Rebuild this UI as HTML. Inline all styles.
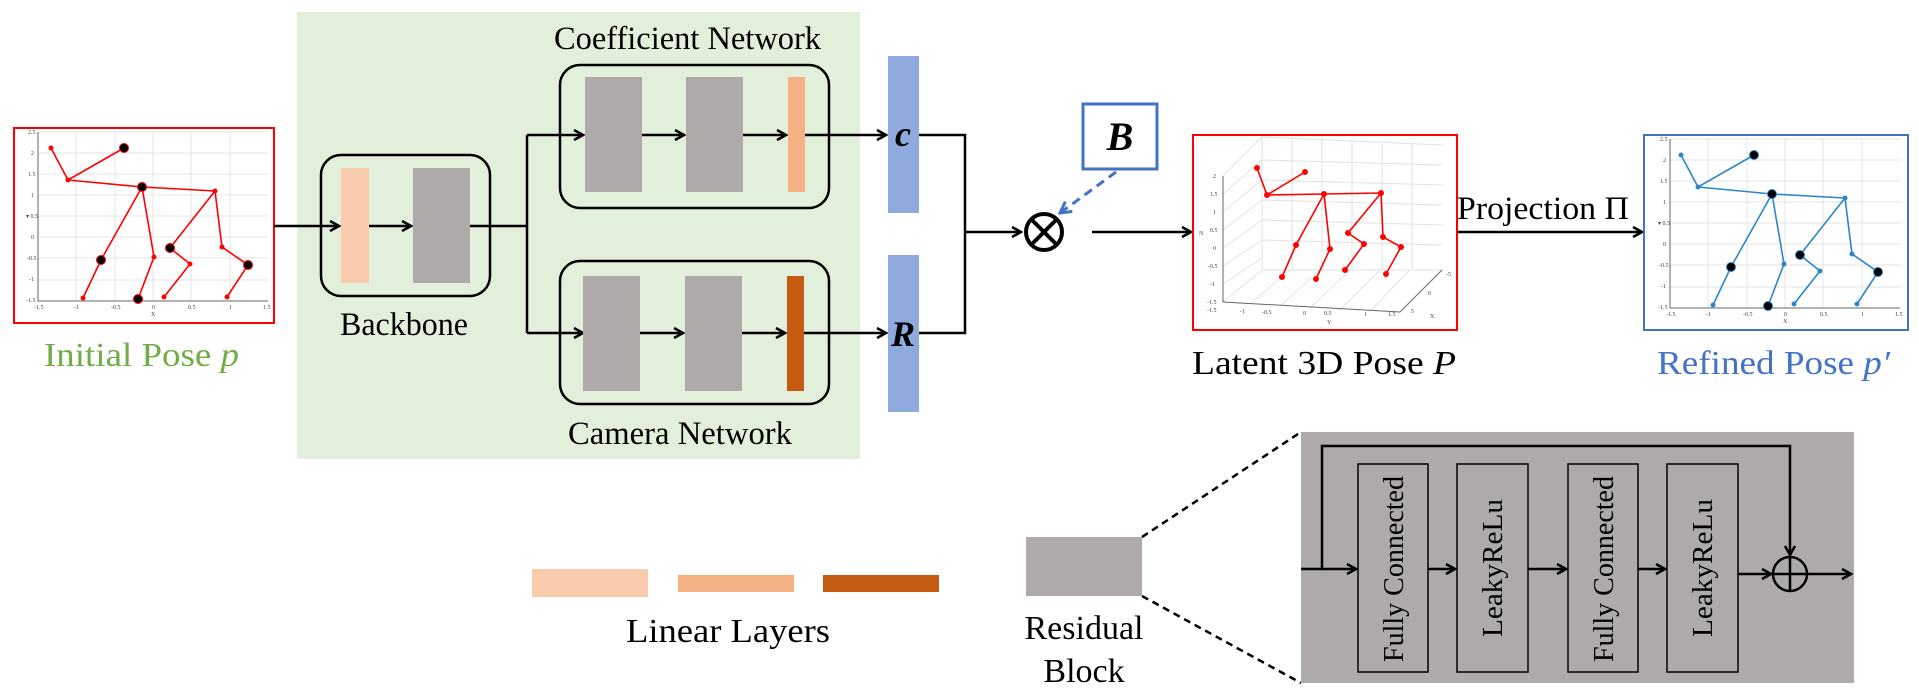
<!DOCTYPE html>
<html><head><meta charset="utf-8"><style>
html,body{margin:0;padding:0;background:#fff;}
svg{display:block;}
text{font-family:"Liberation Serif",serif;}
</style></head><body>
<svg width="1919" height="697" viewBox="0 0 1919 697" xmlns="http://www.w3.org/2000/svg">
<defs>
<marker id="ah" markerWidth="12" markerHeight="12" refX="10" refY="6" orient="auto" markerUnits="userSpaceOnUse">
<path d="M1,1 L10,6 L1,11" fill="none" stroke="#000" stroke-width="2.5"/>
</marker>
<marker id="ab" markerWidth="14" markerHeight="14" refX="12" refY="7" orient="auto" markerUnits="userSpaceOnUse">
<path d="M1,1 L12,7 L1,13" fill="none" stroke="#4472c4" stroke-width="3"/>
</marker>
<g id="pose">
<g fill="none" stroke-width="1.6">
<path d="M51,148 L68,180 L124,148 M68,180 L142,187 L215,191 M142,187 L101,260 L83,298 M142,187 L154,257 L138,299 M215,191 L170,248 L190,264 L164,297 M215,191 L222,247 L248,265 L227,297"/>
</g>
<g>
<circle cx="51" cy="148" r="2"/><circle cx="68" cy="180" r="2"/><circle cx="215" cy="191" r="2"/><circle cx="83" cy="298" r="2"/><circle cx="154" cy="257" r="2"/><circle cx="190" cy="264" r="2"/><circle cx="164" cy="297" r="2"/><circle cx="222" cy="247" r="2"/><circle cx="227" cy="297" r="2"/>
</g>
<g fill="#000">
<circle cx="124" cy="148" r="4.5"/><circle cx="142" cy="187" r="4.5"/><circle cx="101" cy="260" r="4.5"/><circle cx="138" cy="299" r="4.5"/><circle cx="170" cy="248" r="4.5"/><circle cx="248" cy="265" r="4.5"/>
</g>
</g>
<g id="grid">
<g stroke="#e4e4e4" stroke-width="1">
<path d="M38,132 H268 M38,153 H268 M38,174 H268 M38,195 H268 M38,216 H268 M38,237 H268 M38,258 H268 M38,280 H268 M76,132 V301 M115,132 V301 M153,132 V301 M191,132 V301 M230,132 V301"/>
</g>
<path d="M38,132 V301 H268" fill="none" stroke="#666" stroke-width="1"/>
<g font-size="6" fill="#444" font-family="Liberation Sans,sans-serif">
<text x="28" y="134">2.5</text><text x="31" y="155">2</text><text x="28" y="176">1.5</text><text x="31" y="197">1</text><text x="26" y="218">▾ 0.5</text><text x="31" y="239">0</text><text x="27" y="260">-0.5</text><text x="29" y="281">-1</text><text x="26" y="302">-1.5</text>
<text x="34" y="309">-1.5</text><text x="74" y="309">-1</text><text x="111" y="309">-0.5</text><text x="152" y="309">0</text><text x="188" y="309">0.5</text><text x="229" y="309">1</text><text x="263" y="309">1.5</text><text x="151" y="316">X</text>
</g>
</g>
</defs>

<rect x="297" y="12" width="563" height="447" fill="#e2efda"/>

<rect x="14" y="128" width="260" height="195" fill="#fff" stroke="#ff0000" stroke-width="2"/>
<use href="#grid"/>
<g stroke="#ff0000" fill="#ff0000"><use href="#pose"/></g>
<text x="44" y="366" font-size="34" fill="#70ad47" textLength="195" lengthAdjust="spacingAndGlyphs">Initial Pose <tspan font-style="italic">p</tspan></text>

<rect x="321" y="155" width="169" height="141" rx="20" fill="none" stroke="#000" stroke-width="2.5"/>
<rect x="341" y="168" width="28" height="115" fill="#f8cbad"/>
<rect x="413" y="168" width="57" height="115" fill="#aeaaaa"/>
<text x="340" y="335" font-size="33" textLength="128" lengthAdjust="spacingAndGlyphs">Backbone</text>

<g stroke="#000" stroke-width="2.5" fill="none">
<line x1="274" y1="226" x2="339" y2="226" marker-end="url(#ah)"/>
<line x1="369" y1="226" x2="411" y2="226" marker-end="url(#ah)"/>
<line x1="470" y1="226" x2="527" y2="226"/>
<polyline points="527,135 527,333"/>
<line x1="527" y1="135" x2="583" y2="135" marker-end="url(#ah)"/>
<line x1="527" y1="333" x2="583" y2="333" marker-end="url(#ah)"/>
</g>

<text x="554" y="49" font-size="33" textLength="267" lengthAdjust="spacingAndGlyphs">Coefficient Network</text>
<rect x="560" y="65" width="269" height="143" rx="20" fill="none" stroke="#000" stroke-width="2.5"/>
<rect x="585" y="77" width="57" height="115" fill="#aeaaaa"/>
<rect x="686" y="77" width="57" height="115" fill="#aeaaaa"/>
<rect x="788" y="77" width="17" height="115" fill="#f4b183"/>
<rect x="560" y="261" width="269" height="143" rx="20" fill="none" stroke="#000" stroke-width="2.5"/>
<rect x="583" y="276" width="57" height="115" fill="#aeaaaa"/>
<rect x="685" y="276" width="57" height="115" fill="#aeaaaa"/>
<rect x="787" y="276" width="17" height="115" fill="#c55a11"/>
<text x="568" y="444" font-size="33" textLength="224" lengthAdjust="spacingAndGlyphs">Camera Network</text>

<g stroke="#000" stroke-width="2.5" fill="none">
<line x1="642" y1="135" x2="684" y2="135" marker-end="url(#ah)"/>
<line x1="743" y1="135" x2="786" y2="135" marker-end="url(#ah)"/>
<line x1="805" y1="135" x2="886" y2="135" marker-end="url(#ah)"/>
<line x1="640" y1="333" x2="683" y2="333" marker-end="url(#ah)"/>
<line x1="742" y1="333" x2="785" y2="333" marker-end="url(#ah)"/>
<line x1="804" y1="333" x2="886" y2="333" marker-end="url(#ah)"/>
</g>

<rect x="888" y="56" width="31" height="157" fill="#8faadc"/>
<rect x="888" y="255" width="31" height="157" fill="#8faadc"/>
<text x="903" y="146" font-size="36" font-weight="bold" font-style="italic" text-anchor="middle">c</text>
<text x="903" y="346" font-size="36" font-weight="bold" font-style="italic" text-anchor="middle">R</text>

<g stroke="#000" stroke-width="2.5" fill="none">
<polyline points="919,135 965,135 965,333 919,333"/>
<line x1="965" y1="232" x2="1021" y2="232" marker-end="url(#ah)"/>
<line x1="1092" y1="232" x2="1191" y2="232" marker-end="url(#ah)"/>
<line x1="1457" y1="232" x2="1642" y2="232" marker-end="url(#ah)"/>
</g>
<circle cx="1044" cy="232" r="18" fill="none" stroke="#000" stroke-width="4"/>
<path d="M1031,219 L1057,245 M1057,219 L1031,245" stroke="#000" stroke-width="4"/>

<rect x="1083" y="104" width="74" height="65" fill="#fff" stroke="#4472c4" stroke-width="3"/>
<text x="1120" y="150" font-size="40" font-weight="bold" font-style="italic" text-anchor="middle">B</text>
<line x1="1116" y1="172" x2="1060" y2="213" stroke="#4472c4" stroke-width="3" stroke-dasharray="9,6" marker-end="url(#ab)"/>

<rect x="1193" y="135" width="264" height="195" fill="#fff" stroke="#ff0000" stroke-width="2"/>
<g stroke="#e2e2e2" stroke-width="1" fill="none">
<path d="M1262,137 L1442,145 M1262,137 V270 M1223,176 L1262,137 M1223,302 L1262,270 L1442,270 M1262,160 L1442,165 M1262,180 L1442,185 M1262,200 L1442,205 M1262,220 L1442,225 M1262,240 L1442,245 M1292,137 V270 M1322,138 V270 M1352,140 V270 M1382,142 V270 M1412,143 V270 M1223,194 L1262,160 M1223,212 L1262,180 M1223,230 L1262,200 M1223,248 L1262,220 M1223,266 L1262,240 M1223,284 L1262,258 M1250,304 L1290,270 M1280,306 L1320,270 M1310,308 L1350,270 M1340,310 L1380,270 M1370,311 L1410,270"/>
</g>
<path d="M1223,176 V302 L1400,312 L1442,270" fill="none" stroke="#666" stroke-width="1"/>
<g font-size="6" fill="#444" font-family="Liberation Sans,sans-serif">
<text x="1213" y="178">2</text><text x="1210" y="196">1.5</text><text x="1213" y="214">1</text><text x="1210" y="232">0.5</text><text x="1213" y="250">0</text><text x="1208" y="268">-0.5</text><text x="1210" y="286">-1</text><text x="1207" y="304">-1.5</text><text x="1199" y="235">N</text>
<text x="1207" y="312">-1.5</text><text x="1240" y="313">-1</text><text x="1262" y="314">-0.5</text><text x="1303" y="315">0</text><text x="1324" y="315">0.5</text><text x="1364" y="316">1</text><text x="1388" y="316">1.5</text><text x="1327" y="324">Y</text><text x="1446" y="276">-5</text><text x="1428" y="295">0</text><text x="1411" y="313">5</text><text x="1430" y="318">X</text>
</g>
<g stroke="#ff0000" fill="#ff0000" stroke-width="1.6">
<path fill="none" d="M1257,168 L1267,195 L1305,172 M1267,195 L1324,194 L1381,193 M1324,194 L1296,245 L1282,277 M1324,194 L1330,249 L1316,279 M1381,193 L1348,233 L1364,244 L1345,270 M1381,193 L1383,237 L1401,247 L1386,274"/>
<circle cx="1257" cy="168" r="2.2"/><circle cx="1305" cy="172" r="2.2"/><circle cx="1267" cy="195" r="2.2"/><circle cx="1324" cy="194" r="2.2"/><circle cx="1381" cy="193" r="2.2"/><circle cx="1296" cy="245" r="2.2"/><circle cx="1282" cy="277" r="2.2"/><circle cx="1330" cy="249" r="2.2"/><circle cx="1316" cy="279" r="2.2"/><circle cx="1348" cy="233" r="2.2"/><circle cx="1364" cy="244" r="2.2"/><circle cx="1345" cy="270" r="2.2"/><circle cx="1383" cy="237" r="2.2"/><circle cx="1401" cy="247" r="2.2"/><circle cx="1386" cy="274" r="2.2"/>
</g>
<text x="1192" y="374" font-size="34" textLength="264" lengthAdjust="spacingAndGlyphs">Latent 3D Pose <tspan font-style="italic">P</tspan></text>

<text x="1457" y="219" font-size="33" textLength="172" lengthAdjust="spacingAndGlyphs">Projection Π</text>

<rect x="1644" y="135" width="264" height="195" fill="#fff" stroke="#4472c4" stroke-width="2"/>
<g transform="translate(1632,7)"><use href="#grid"/></g>
<g transform="translate(1630,7)" stroke="#2e86c8" fill="#2e86c8"><use href="#pose"/></g>
<text x="1657" y="374" font-size="34" fill="#4472c4" textLength="233" lengthAdjust="spacingAndGlyphs">Refined Pose <tspan font-style="italic">p′</tspan></text>

<rect x="532" y="569" width="116" height="28" fill="#f8cbad"/>
<rect x="678" y="575" width="116" height="17" fill="#f4b183"/>
<rect x="823" y="575" width="116" height="17" fill="#c55a11"/>
<text x="626" y="642" font-size="34" textLength="204" lengthAdjust="spacingAndGlyphs">Linear Layers</text>

<rect x="1026" y="537" width="116" height="59" fill="#aeaaaa"/>
<text x="1084" y="639" font-size="34" text-anchor="middle">Residual</text>
<text x="1084" y="682" font-size="34" text-anchor="middle">Block</text>
<g stroke="#000" stroke-width="2.5" stroke-dasharray="7,5">
<line x1="1142" y1="537" x2="1301" y2="432"/>
<line x1="1142" y1="596" x2="1301" y2="683"/>
</g>
<rect x="1301" y="432" width="553" height="251" fill="#aeaaaa"/>
<g fill="none" stroke="#000" stroke-width="1.5">
<rect x="1358" y="464" width="70" height="208"/>
<rect x="1457" y="464" width="71" height="208"/>
<rect x="1568" y="464" width="70" height="208"/>
<rect x="1667" y="464" width="71" height="208"/>
</g>
<g font-size="28">
<text transform="translate(1403,662) rotate(-90)" textLength="186" lengthAdjust="spacingAndGlyphs">Fully Connected</text>
<text transform="translate(1502,637) rotate(-90)" textLength="138" lengthAdjust="spacingAndGlyphs">LeakyReLu</text>
<text transform="translate(1613,662) rotate(-90)" textLength="186" lengthAdjust="spacingAndGlyphs">Fully Connected</text>
<text transform="translate(1712,637) rotate(-90)" textLength="138" lengthAdjust="spacingAndGlyphs">LeakyReLu</text>
</g>
<g stroke="#000" stroke-width="2.5" fill="none">
<line x1="1301" y1="569" x2="1356" y2="569" marker-end="url(#ah)"/>
<polyline points="1322,569 1322,446 1790,446 1790,555" marker-end="url(#ah)"/>
<line x1="1428" y1="569" x2="1455" y2="569" marker-end="url(#ah)"/>
<line x1="1528" y1="569" x2="1566" y2="569" marker-end="url(#ah)"/>
<line x1="1638" y1="569" x2="1665" y2="569" marker-end="url(#ah)"/>
<line x1="1738" y1="574" x2="1771" y2="574" marker-end="url(#ah)"/>
<line x1="1807" y1="574" x2="1851" y2="574" marker-end="url(#ah)"/>
<circle cx="1790" cy="574" r="17"/>
<path d="M1773,574 H1807 M1790,557 V591"/>
</g>
</svg>
</body></html>
